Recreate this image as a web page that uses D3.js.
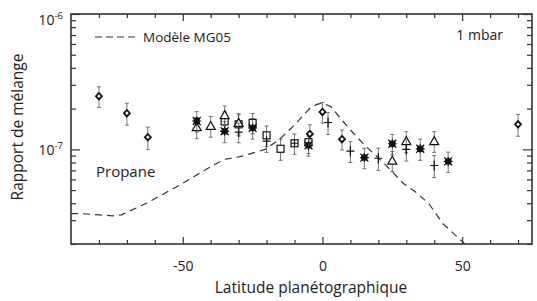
<!DOCTYPE html>
<html>
<head>
<meta charset="utf-8">
<script src="https://cdn.jsdelivr.net/npm/d3@7"></script>
<style>
body { margin: 0; background: #fff; }
text { font-family: "Open Sans", sans-serif; fill: #222; }
</style>
</head>
<body>
<div id="chart"></div>
<script>
// observations : latitude (deg), mixing ratio, error
var diamondLat = [-80, -70, -62.5, -4.5, 0, 7, 70];
var diamondVal = [2.47e-7, 1.85e-7, 1.23e-7, 1.30e-7, 1.89e-7, 1.19e-7, 1.53e-7];
var diamondErr = [0.43e-7, 0.34e-7, 0.23e-7, 0.22e-7, 0.33e-7, 0.20e-7, 0.28e-7];

var plusLat = [-30, -20, 2, 10, 20, 30, 40];
var plusVal = [1.34e-7, 1.15e-7, 1.58e-7, 0.97e-7, 0.86e-7, 1.0e-7, 0.76e-7];
var plusErr = [0.22e-7, 0.20e-7, 0.29e-7, 0.17e-7, 0.16e-7, 0.18e-7, 0.14e-7];

var starLat = [-45, -35, -25, -5, 15, 25, 35, 45];
var starVal = [1.62e-7, 1.36e-7, 1.44e-7, 1.07e-7, 0.87e-7, 1.10e-7, 1.01e-7, 0.815e-7];
var starErr = [0.28e-7, 0.24e-7, 0.25e-7, 0.18e-7, 0.15e-7, 0.19e-7, 0.18e-7, 0.14e-7];

var triLat = [-45, -40, -35, -30, 25, 30, 40];
var triVal = [1.46e-7, 1.49e-7, 1.79e-7, 1.57e-7, 0.825e-7, 1.15e-7, 1.15e-7];
var triErr = [0.26e-7, 0.26e-7, 0.30e-7, 0.27e-7, 0.14e-7, 0.20e-7, 0.20e-7];

var squareLat = [-35, -30, -25, -20, -15, -5];
var squareVal = [1.61e-7, 1.53e-7, 1.57e-7, 1.27e-7, 1.01e-7, 1.13e-7];
var squareErr = [0.28e-7, 0.27e-7, 0.27e-7, 0.22e-7, 0.18e-7, 0.20e-7];

var boxLat = [-10];
var boxVal = [1.11e-7];
var boxErr = [0.19e-7];

// model MG05
var modelLat = [-90, -86, -80, -75, -72, -63, -51, -39, -35, -29.5, -20.5, -15.5, -10.5, -4.5, -2, 0, 3, 7.5, 10, 15, 22, 29, 33, 38, 43, 50, 52];
var modelVal = [3.35e-8, 3.35e-8, 3.28e-8, 3.23e-8, 3.28e-8, 4.0e-8, 5.46e-8, 7.67e-8, 8.45e-8, 8.83e-8, 1.0e-7, 1.18e-7, 1.48e-7, 2.01e-7, 2.15e-7, 2.2e-7, 2.07e-7, 1.6e-7, 1.39e-7, 1.08e-7, 7.9e-8, 5.6e-8, 4.9e-8, 4.0e-8, 2.84e-8, 2.09e-8, 1.9e-8];

var xTicks = d3.range(-80, 80, 10);
var xLabels = [-50, 0, 50];
var yLabels = [1e-7, 1e-6];

var margin = {top: 14, right: 5, bottom: 57, left: 71};
var width = 537 - margin.left - margin.right;
var height = 301 - margin.top - margin.bottom;

var svg = d3.select("#chart").append("svg")
    .attr("width", width + margin.left + margin.right)
    .attr("height", height + margin.top + margin.bottom)
  .append("g")
    .attr("transform", "translate(" + margin.left + "," + margin.top + ")");

var x = d3.scaleLinear().domain([-90, 75]).range([0, width]);
var y = d3.scaleLog().domain([2e-8, 1e-6]).range([height, 0]);

var ink = "#333";

svg.append("clipPath").attr("id", "clip")
  .append("rect").attr("width", width).attr("height", height);

// ticks, inward on all four sides
function isMajorX(d) { return xLabels.indexOf(d) >= 0; }
function isMajorY(d) { return Math.abs(Math.log10(d) - Math.round(Math.log10(d))) < 1e-6; }

var gb = svg.append("g").attr("transform", "translate(0," + height + ")")
  .call(d3.axisBottom(x).tickValues(xTicks).tickSize(-4).tickPadding(17)
    .tickFormat(function(d) { return isMajorX(d) ? d : ""; }));
gb.selectAll(".tick line").attr("y2", function(d) { return isMajorX(d) ? -7 : -4; });

var gt = svg.append("g")
  .call(d3.axisTop(x).tickValues(xTicks).tickSize(-4).tickFormat(""));
gt.selectAll(".tick line").attr("y2", function(d) { return isMajorX(d) ? 7 : 4; });

var gl = svg.append("g")
  .call(d3.axisLeft(y).tickValues(y.ticks()).tickSize(-5).tickFormat(""));
gl.selectAll(".tick line").attr("x2", function(d) { return isMajorY(d) ? 9 : 5; });

var gr = svg.append("g").attr("transform", "translate(" + width + ",0)")
  .call(d3.axisRight(y).tickValues(y.ticks()).tickSize(-5).tickFormat(""));
gr.selectAll(".tick line").attr("x2", function(d) { return isMajorY(d) ? -9 : -5; });

svg.selectAll(".domain").remove();
svg.selectAll(".tick line").attr("stroke", ink).attr("stroke-width", 1.2);
gb.selectAll(".tick text").style("font-size", "14px").style("font-family", "Open Sans, sans-serif").attr("fill", "#222");

// frame
svg.append("rect")
  .attr("width", width).attr("height", height)
  .attr("fill", "none").attr("stroke", ink).attr("stroke-width", 1.6);

// y labels 10^n
var yl = svg.selectAll("ylab").data(yLabels).enter().append("text")
  .attr("x", -8)
  .attr("y", function(d) { return Math.max(y(d) + 6, 11); })
  .attr("text-anchor", "end")
  .style("font-size", "14px");
yl.append("tspan").text("10");
yl.append("tspan").attr("dy", -6).style("font-size", "9.5px")
  .text(function(d) { return Math.round(Math.log10(d)); });

// axis titles
svg.append("text")
  .attr("x", 311 - margin.left).attr("y", height + 49)
  .attr("text-anchor", "middle").style("font-size", "15.5px")
  .text("Latitude planétographique");

svg.append("text")
  .attr("transform", "translate(" + (23 - margin.left) + "," + (127 - margin.top) + ") rotate(-90)")
  .attr("text-anchor", "middle").style("font-size", "15.5px")
  .text("Rapport de mélange");

// model line
var model = modelLat.map(function(d, i) { return {lat: d, v: modelVal[i]}; });
svg.append("path")
  .datum(model)
  .attr("clip-path", "url(#clip)")
  .attr("fill", "none").attr("stroke", ink).attr("stroke-width", 1.2)
  .attr("stroke-dasharray", "7,5")
  .attr("d", d3.line()
    .x(function(d) { return x(d.lat); })
    .y(function(d) { return y(d.v); }));

// legend and labels
svg.append("line")
  .attr("x1", 95 - margin.left).attr("x2", 135 - margin.left)
  .attr("y1", 37 - margin.top).attr("y2", 37 - margin.top)
  .attr("stroke", ink).attr("stroke-width", 1.2).attr("stroke-dasharray", "7,4");
svg.append("text").attr("x", 143 - margin.left).attr("y", 42 - margin.top)
  .style("font-size", "13.5px").text("Modèle MG05");
svg.append("text").attr("x", 503 - margin.left).attr("y", 40 - margin.top)
  .attr("text-anchor", "end").style("font-size", "14px").text("1 mbar");
svg.append("text").attr("x", 96 - margin.left).attr("y", 177 - margin.top)
  .style("font-size", "15px").text("Propane");

// error bars + markers
function drawSeries(lat, val, err, shape) {
  var data = lat.map(function(d, i) { return {lat: d, v: val[i], e: err[i]}; });
  var g = svg.append("g");
  var pts = g.selectAll("g").data(data).enter().append("g")
    .attr("transform", function(d) { return "translate(" + x(d.lat) + ",0)"; });
  pts.append("line")
    .attr("y1", function(d) { return y(d.v - d.e); })
    .attr("y2", function(d) { return y(d.v + d.e); })
    .attr("stroke", "#555").attr("stroke-width", 0.8);
  pts.append("line").attr("x1", -2).attr("x2", 2)
    .attr("y1", function(d) { return y(d.v + d.e); })
    .attr("y2", function(d) { return y(d.v + d.e); })
    .attr("stroke", "#555").attr("stroke-width", 0.8);
  pts.append("line").attr("x1", -2).attr("x2", 2)
    .attr("y1", function(d) { return y(d.v - d.e); })
    .attr("y2", function(d) { return y(d.v - d.e); })
    .attr("stroke", "#555").attr("stroke-width", 0.8);
  var m = pts.append("g")
    .attr("transform", function(d) { return "translate(0," + y(d.v) + ")"; })
    .attr("stroke", "#111").attr("fill", "none").attr("stroke-width", 1.2);
  if (shape == "diamond") {
    m.append("path").attr("d", "M0,-3.2L3,0L0,3.2L-3,0Z").attr("fill", "#fff").attr("stroke-width", 1.8);
  } else if (shape == "plus") {
    m.append("path").attr("d", "M-4,0H4M0,-5V5");
  } else if (shape == "star") {
    m.append("rect").attr("x", -2.5).attr("y", -2.5).attr("width", 5).attr("height", 5).attr("fill", "#111");
    m.append("path").attr("d", "M-4,-4L4,4M-4,4L4,-4M-4.5,0H4.5M0,-4.5V4.5");
  } else if (shape == "triangle") {
    m.append("path").attr("d", "M0,-4.5L4.5,3.5L-4.5,3.5Z").attr("fill", "#fff");
  } else if (shape == "square") {
    m.append("rect").attr("x", -3.5).attr("y", -3.5).attr("width", 7).attr("height", 7).attr("fill", "#fff");
  } else if (shape == "box") {
    m.append("rect").attr("x", -3.5).attr("y", -3.5).attr("width", 7).attr("height", 7).attr("fill", "#fff");
    m.append("path").attr("d", "M-3.5,0H3.5M0,-3.5V3.5");
  }
}

drawSeries(squareLat, squareVal, squareErr, "square");
drawSeries(boxLat, boxVal, boxErr, "box");
drawSeries(triLat, triVal, triErr, "triangle");
drawSeries(starLat, starVal, starErr, "star");
drawSeries(plusLat, plusVal, plusErr, "plus");
drawSeries(diamondLat, diamondVal, diamondErr, "diamond");
</script>
</body>
</html>
